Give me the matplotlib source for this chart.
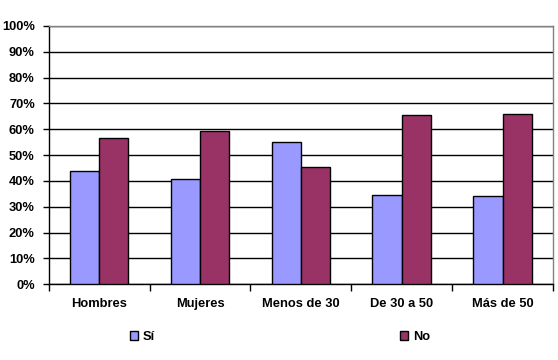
import numpy as np
import matplotlib
matplotlib.use("Agg")
import matplotlib.pyplot as plt
import matplotlib.ticker as mticker

categorias = ["Hombres", "Mujeres", "Menos de 30", "De 30 a 50", "Más de 50"]
si = [43.7, 40.6, 55.0, 34.4, 34.1]
no = [56.5, 59.4, 45.3, 65.4, 65.8]

plt.rcParams["font.family"] = ["Liberation Sans", "DejaVu Sans"]
plt.rcParams["font.weight"] = "bold"

fig = plt.figure(figsize=(5.58, 3.6), dpi=100)
ax = fig.add_axes([0.0873, 0.2103, 0.9037, 0.7175])

x = np.arange(len(categorias))
w = 0.29
ax.bar(x - w / 2, si, w, color="#9999FF", edgecolor="black", linewidth=1, label="Sí", zorder=3)
ax.bar(x + w / 2, no, w, color="#993366", edgecolor="black", linewidth=1, label="No", zorder=3)

ax.set_ylim(0, 100)
ax.set_xlim(-0.5, len(categorias) - 0.5)
ax.set_yticks(np.arange(0, 101, 10))
ax.yaxis.set_major_formatter(mticker.FormatStrFormatter("%d%%"))
ax.grid(axis="y", color="black", linewidth=1, zorder=0)

# ticks between categories on x
ax.set_xticks(np.arange(-0.5, len(categorias), 1))
ax.set_xticklabels([])
ax.set_xticks(x, minor=True)
ax.set_xticklabels(categorias, minor=True)
ax.tick_params(axis="x", which="major", length=5, width=1, direction="out", color="black")
ax.tick_params(axis="x", which="minor", length=0, pad=10, labelsize=9.3)
ax.tick_params(axis="y", length=4, width=1, direction="out", pad=6, labelsize=9.3)

for side in ["top", "right"]:
    ax.spines[side].set_color("gray")
    ax.spines[side].set_linewidth(1)
for side in ["left", "bottom"]:
    ax.spines[side].set_color("black")
    ax.spines[side].set_linewidth(1)

fig.legend(loc="center", bbox_to_anchor=(0.502, 0.064), ncol=2, frameon=False,
           handlelength=0.6, handleheight=0.6, handletextpad=0.4,
           columnspacing=19.0, fontsize=9.3)

plt.savefig("out.png", dpi=100)
